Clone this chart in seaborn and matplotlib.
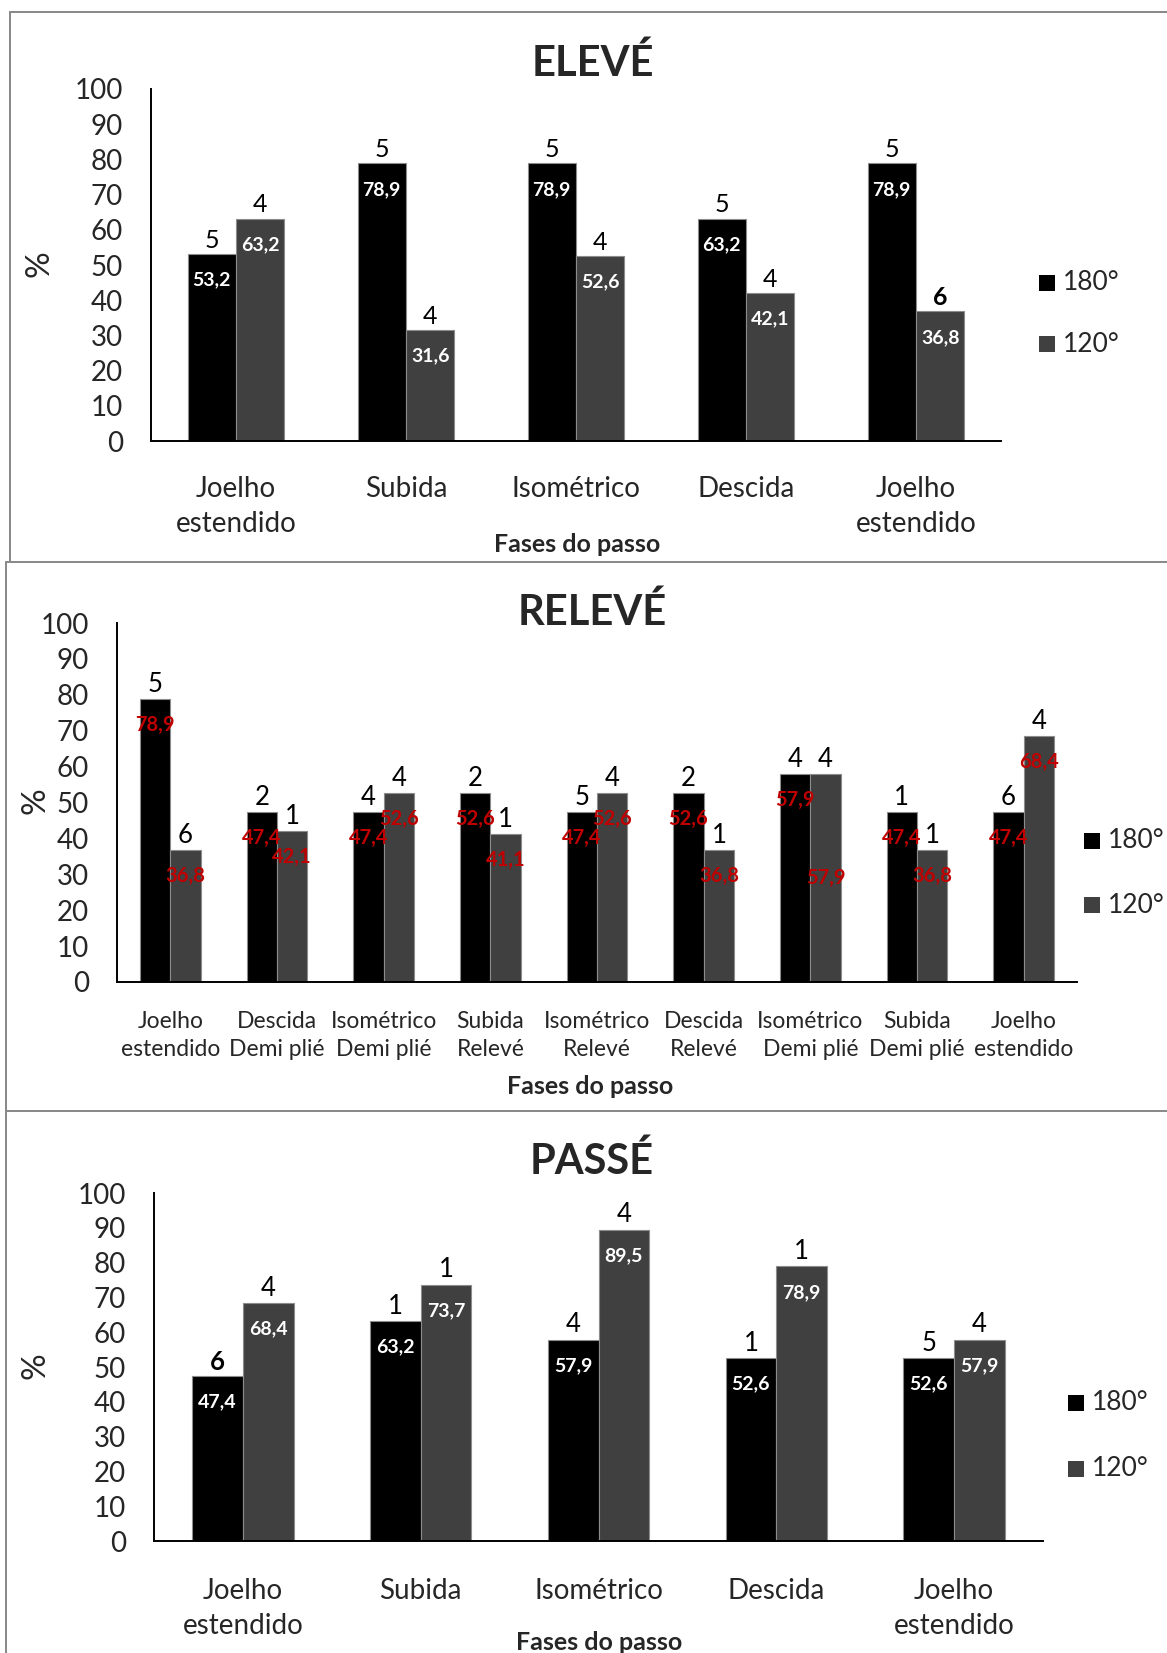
import matplotlib
matplotlib.use("Agg")
import matplotlib.pyplot as plt
from matplotlib.lines import Line2D
from matplotlib.patches import Rectangle
import numpy as np
import pandas as pd
import seaborn as sns

# ---------------------------------------------------------------- data
angles = ["180°", "120°"]

eleve_phases = ["Joelho\nestendido", "Subida", "Isométrico", "Descida", "Joelho\nestendido"]
eleve_180 = [53.2, 78.9, 78.9, 63.2, 78.9]
eleve_120 = [63.2, 31.6, 52.6, 42.1, 36.8]
eleve_n_180 = [5, 5, 5, 5, 5]
eleve_n_120 = [4, 4, 4, 4, 6]

releve_phases = ["Joelho\nestendido", "Descida\nDemi plié", "Isométrico\nDemi plié",
                 "Subida\nRelevé", "Isométrico\nRelevé", "Descida\nRelevé",
                 "Isométrico\nDemi plié", "Subida\nDemi plié", "Joelho\nestendido"]
releve_180 = [78.9, 47.4, 47.4, 52.6, 47.4, 52.6, 57.9, 47.4, 47.4]
releve_120 = [36.8, 42.1, 52.6, 41.1, 52.6, 36.8, 57.9, 36.8, 68.4]
releve_n_180 = [5, 2, 4, 2, 5, 2, 4, 1, 6]
releve_n_120 = [6, 1, 4, 1, 4, 1, 4, 1, 4]

passe_phases = ["Joelho\nestendido", "Subida", "Isométrico", "Descida", "Joelho\nestendido"]
passe_180 = [47.4, 63.2, 57.9, 52.6, 52.6]
passe_120 = [68.4, 73.7, 89.5, 78.9, 57.9]
passe_n_180 = [6, 1, 4, 1, 5]
passe_n_120 = [4, 1, 4, 1, 4]

# ---------------------------------------------------------------- style
bar_colors = {"180°": "#000000", "120°": "#404040"}
frame_color = "#8a8a8a"

sns.set_style("white")
plt.rcParams["font.family"] = ["Lato", "DejaVu Sans"]

W, H, DPI = 1167, 1653, 100
PT = 72 / DPI  # points per pixel


def fx(x):
    return x / W


def fy(y):
    return 1 - y / H


def comma(v):
    return f"{v:.1f}".replace(".", ",")


fig = plt.figure(figsize=(W / DPI, H / DPI), dpi=DPI)
fig.patch.set_facecolor("white")


def panel(box, phases, v180, v120, n180, n120, title, title_xy, xlabel_xy,
          ylabel_xy, legend_x, legend_ys, xtick_size, xtick_pad, xtick_spacing,
          count_size, value_color, value_size, bold_counts=(), value_drop=None):
    x0, ytop, x1, ybot = box
    ax = fig.add_axes([fx(x0), fy(ybot), (x1 - x0) / W, (ybot - ytop) / H])
    n = len(phases)
    df = pd.DataFrame({
        "step": list(range(n)) * 2,
        "angle": [angles[0]] * n + [angles[1]] * n,
        "pct": list(v180) + list(v120),
    })
    sns.barplot(data=df, x="step", y="pct", hue="angle", hue_order=angles,
                palette=bar_colors, saturation=1, width=0.57,
                edgecolor="#8c8c8c", linewidth=0.8, errorbar=None,
                legend=False, ax=ax)

    counts = [n180, n120]
    value_drop = value_drop or {}
    for hi, cont in enumerate(ax.containers):
        for j, bar in enumerate(cont):
            cx = bar.get_x() + bar.get_width() / 2
            h = bar.get_height()
            ax.annotate(str(counts[hi][j]), (cx, h), xytext=(0, 1.5),
                        textcoords="offset points", ha="center", va="bottom",
                        fontsize=count_size, color="black",
                        fontweight="bold" if (hi, j) in bold_counts else "normal")
            drop = value_drop.get((hi, j), 0)
            ax.annotate(comma(h), (cx, h), xytext=(0, -(26 + drop) * PT),
                        textcoords="offset points", ha="center", va="center",
                        fontsize=value_size, fontweight="bold", color=value_color)

    ax.set_xlim(-0.5, n - 0.5)
    ax.set_ylim(0, 100)
    ax.set_yticks(np.arange(0, 101, 10))
    ax.set_xticks(range(n))
    ax.set_xticklabels(phases, fontsize=xtick_size, linespacing=xtick_spacing)
    ax.set_xticks(np.arange(-0.5, n), minor=True)
    ax.tick_params(axis="x", which="major", length=0, pad=xtick_pad * PT)
    ax.tick_params(axis="x", which="minor", length=8 * PT, width=1.3,
                   direction="out", color="black")
    ax.tick_params(axis="y", length=8 * PT, width=1.3, direction="out",
                   pad=20 * PT, labelsize=20, color="black")
    ax.set_xlabel("")
    ax.set_ylabel("")
    for s in ("top", "right"):
        ax.spines[s].set_visible(False)
    for s in ("left", "bottom"):
        ax.spines[s].set_color("black")
        ax.spines[s].set_linewidth(1.4)

    fig.text(fx(title_xy[0]), fy(title_xy[1]), title, ha="center", va="center",
             fontsize=30, fontweight="bold")
    fig.text(fx(xlabel_xy[0]), fy(xlabel_xy[1]), "Fases do passo", ha="center",
             va="center", fontsize=18, fontweight="bold")
    fig.text(fx(ylabel_xy[0]), fy(ylabel_xy[1]), "%", ha="center", va="center",
             rotation=90, fontsize=24)

    sq = 16
    for lab, yc in zip(angles, legend_ys):
        fig.add_artist(Rectangle((fx(legend_x), fy(yc + sq / 2)), sq / W, sq / H,
                                 transform=fig.transFigure,
                                 facecolor=bar_colors[lab], edgecolor="none"))
        fig.text(fx(legend_x + sq + 8), fy(yc), lab, ha="left", va="center",
                 fontsize=19)
    return ax


# ELEVÉ
panel((151, 89, 1001, 441), eleve_phases, eleve_180, eleve_120,
      eleve_n_180, eleve_n_120, "ELEVÉ", (593, 63), (577, 544), (39, 264),
      1039, (283, 344), 20, 35, 1.45, 18, "white", 14, bold_counts={(1, 4)})

# RELEVÉ
panel((117, 623, 1077, 982), releve_phases, releve_180, releve_120,
      releve_n_180, releve_n_120, "RELEVÉ", (592, 612), (590, 1086), (35, 801),
      1084, (841, 905), 16.5, 29, 1.4, 18.5, "#c00000", 14.5,
      value_drop={(1, 6): 78})

# PASSÉ
panel((154, 1193, 1043, 1541), passe_phases, passe_180, passe_120,
      passe_n_180, passe_n_120, "PASSÉ", (592, 1161), (599, 1643), (35, 1366),
      1068, (1403, 1469), 20, 37, 1.45, 18.5, "white", 14, bold_counts={(0, 0)})

# panel frames
lw = 2 * PT
for (xa, ya, xb, yb) in [
    (10, 12, W, 12), (10, 12, 10, 562),
    (6, 562, W, 562), (6, 562, 6, 1111),
    (6, 1111, W, 1111), (6, 1111, 6, H),
]:
    fig.add_artist(Line2D([fx(xa), fx(xb)], [fy(ya), fy(yb)],
                          transform=fig.transFigure, color=frame_color,
                          linewidth=lw))

fig.savefig("out.png", dpi=DPI)
